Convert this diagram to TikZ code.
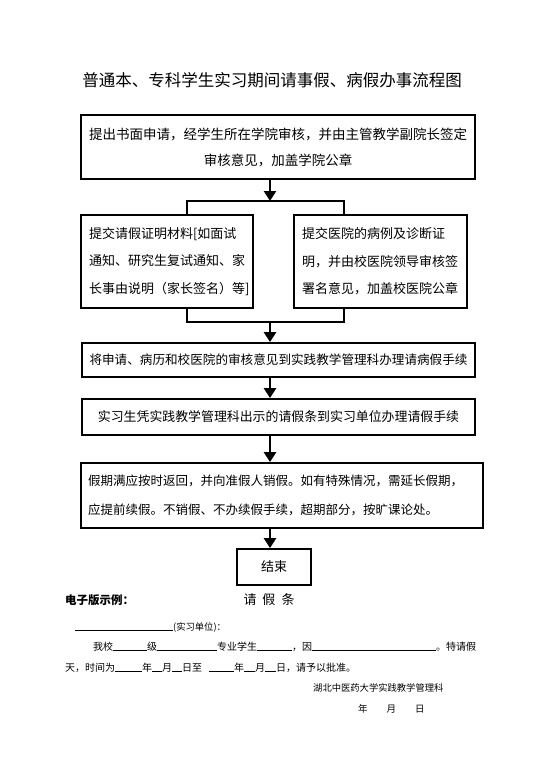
\documentclass[tikz,border=0pt]{standalone}
\usepackage{fontspec}
\setmainfont{Noto Sans CJK SC}
\usetikzlibrary{arrows.meta,positioning}

\begin{document}
\begin{tikzpicture}[x=1pt, y=-1pt, line join=miter,
  flowbox/.style={draw, line width=1.8pt, inner sep=0pt},
  flowarrow/.style={line width=2.6pt, -{Triangle[width=12pt,length=10pt]}},
  branch/.style={line width=1.6pt},
  formtext/.style={inner sep=0pt, anchor=west}]

\useasboundingbox (0,0) rectangle (543,768);

% title
\node[font=\fontsize{16.5pt}{20pt}\selectfont] (title) at (272,80) {普通本、专科学生实习期间请事假、病假办事流程图};

% flow boxes
\node[flowbox, text width=394pt, minimum height=64pt, align=center, font=\fontsize{13.5pt}{26pt}\selectfont] (apply) at (278,147)
  {提出书面申请，经学生所在学院审核，并由主管教学副院长签定\\审核意见，加盖学院公章};
\node[flowbox, text width=156pt, inner xsep=8pt, minimum height=93pt, align=left, font=\fontsize{13pt}{27.5pt}\selectfont] (proof) at (167,261.5)
  {提交请假证明材料[如面试\\通知、研究生复试通知、家\\长事由说明（家长签名）等]};
\node[flowbox, text width=157pt, inner xsep=8pt, minimum height=93pt, align=left, font=\fontsize{13pt}{27.5pt}\selectfont] (record) at (380.5,261.5)
  {提交医院的病例及诊断证\\明，并由校医院领导审核签\\署名意见，加盖校医院公章};
\node[flowbox, text width=393pt, minimum height=34pt, align=center, font=\fontsize{12.6pt}{15pt}\selectfont] (submit) at (278.5,360)
  {将申请、病历和校医院的审核意见到实践教学管理科办理请病假手续};
\node[flowbox, text width=393pt, minimum height=36pt, align=center, font=\fontsize{12.9pt}{15pt}\selectfont] (permit) at (278.5,417)
  {实习生凭实践教学管理科出示的请假条到实习单位办理请假手续};
\node[flowbox, text width=388pt, inner xsep=7pt, minimum height=65pt, align=left, font=\fontsize{12.5pt}{29pt}\selectfont] (return) at (282,495.5)
  {假期满应按时返回，并向准假人销假。如有特殊情况，需延长假期，\\应提前续假。不销假、不办续假手续，超期部分，按旷课论处。};
\node[flowbox, minimum width=74pt, minimum height=36pt, font=\fontsize{13pt}{15pt}\selectfont] (finish) at (274,567) {结束};

% connectors
\coordinate (axis) at (270,0);
\coordinate (fork) at (270,201);
\coordinate (join) at (270,322);
\coordinate (lb) at (187,0);
\coordinate (rb) at (344,0);
\draw[flowarrow] (apply.south -| axis) -- (fork);
\draw[branch] (proof.north -| lb) -- (fork -| lb) -- (fork -| rb) -- (record.north -| rb);
\draw[branch] (proof.south -| lb) -- (join -| lb) -- (join -| rb) -- (record.south -| rb);
\draw[flowarrow] (join) -- (submit.north -| join);
\draw[flowarrow] (submit.south -| axis) -- (permit.north -| axis);
\draw[flowarrow] (permit.south -| axis) -- (return.north -| axis);
\draw[flowarrow] (return.south -| axis) -- (finish.north -| axis);

% leave note sample
\node[formtext, font=\fontsize{11.5pt}{14pt}\selectfont\bfseries] (sample) at (65,600) {电子版示例：};
\node[font=\fontsize{13pt}{15pt}\selectfont] (note) at (269,600) {请\hspace{6pt}假\hspace{6pt}条};
\node[formtext, font=\fontsize{9.3pt}{11pt}\selectfont] (unit) at (75,627) {\rule{98pt}{0.5pt}(实习单位)：};
\node[formtext, font=\fontsize{10pt}{12pt}\selectfont] (lineb) at (93,647)
  {我校\rule{34pt}{0.5pt}级\rule{60pt}{0.5pt}专业学生\rule{35pt}{0.5pt}，因\rule{124pt}{0.5pt}。特请假};
\node[formtext, font=\fontsize{10pt}{12pt}\selectfont] (linec) at (65,668)
  {天，时间为\rule{27pt}{0.5pt}年\rule{10pt}{0.5pt}月\rule{10pt}{0.5pt}日至\hspace{7pt}\rule{25pt}{0.5pt}年\rule{11pt}{0.5pt}月\rule{11pt}{0.5pt}日，请予以批准。};
\node[formtext, font=\fontsize{9.3pt}{11pt}\selectfont] (office) at (313,688) {湖北中医药大学实践教学管理科};
\node[formtext, font=\fontsize{9.5pt}{11pt}\selectfont] (date) at (358,709) {年\hspace{19pt}月\hspace{19pt}日};

\end{tikzpicture}
\end{document}
